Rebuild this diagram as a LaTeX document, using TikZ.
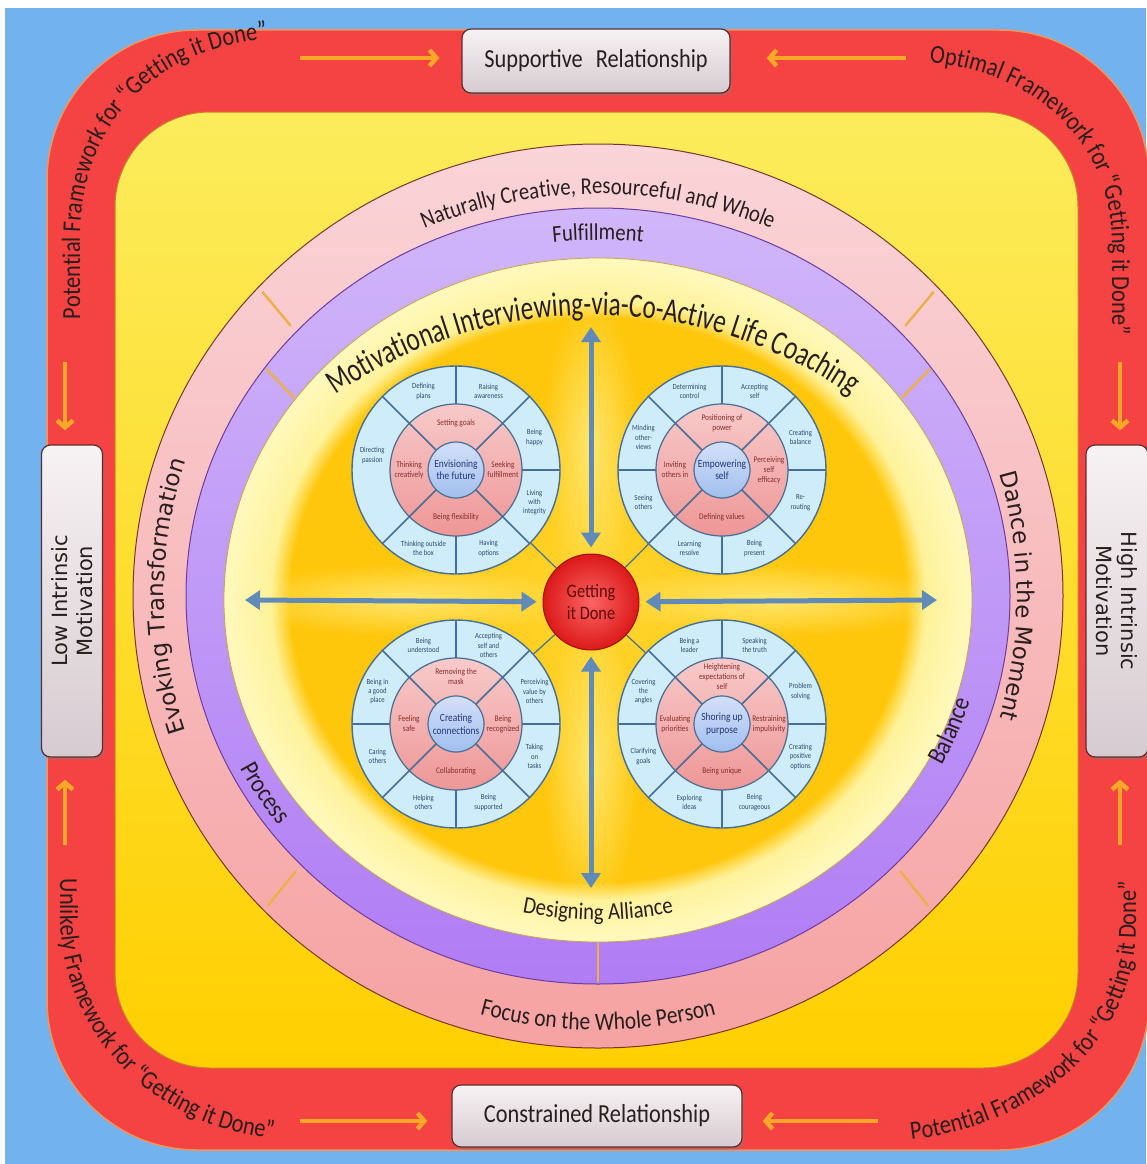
\documentclass[tikz,border=0pt]{standalone}
\usepackage{fontspec}
\setmainfont{Carlito}[FakeStretch=0.86]
\newfontfamily\carlN{Carlito}[FakeStretch=0.74]
\newfontfamily\dvs{DejaVu Sans}
\usetikzlibrary{calc,arrows.meta,decorations.text,shadows,fadings}

\definecolor{bgblue}{RGB}{114,178,238}
\definecolor{redb}{RGB}{245,66,66}
\definecolor{redline}{RGB}{240,150,90}
\definecolor{yelT}{RGB}{252,236,92}
\definecolor{yelB}{RGB}{255,207,0}
\definecolor{yelline}{RGB}{200,130,40}
\definecolor{pinkT}{RGB}{250,212,216}
\definecolor{pinkB}{RGB}{246,162,162}
\definecolor{pinkline}{RGB}{120,55,45}
\definecolor{purT}{RGB}{208,182,250}
\definecolor{purB}{RGB}{176,124,244}
\definecolor{purline}{RGB}{110,60,160}
\definecolor{paleY}{RGB}{255,249,190}
\definecolor{paleY2}{RGB}{255,242,155}
\definecolor{goldA}{RGB}{255,214,50}
\definecolor{goldB}{RGB}{255,199,12}
\definecolor{glow}{RGB}{255,243,150}
\definecolor{paleline}{RGB}{200,165,70}
\definecolor{tickc}{RGB}{236,176,70}
\definecolor{txt}{RGB}{40,30,30}
\definecolor{wblue}{RGB}{206,236,249}
\definecolor{wline}{RGB}{72,110,150}
\definecolor{wpT}{RGB}{248,202,202}
\definecolor{wpB}{RGB}{238,150,150}
\definecolor{wcT}{RGB}{212,224,250}
\definecolor{wcB}{RGB}{160,190,238}
\definecolor{otxt}{RGB}{50,72,105}
\definecolor{ptxt}{RGB}{135,45,45}
\definecolor{ctxt}{RGB}{35,55,115}
\definecolor{arrowb}{RGB}{96,138,184}
\definecolor{orangea}{RGB}{248,168,38}
\definecolor{boxT}{RGB}{247,242,244}
\definecolor{boxB}{RGB}{214,203,208}
\definecolor{boxline}{RGB}{90,45,45}
\definecolor{gidIn}{RGB}{252,100,100}
\definecolor{gidOut}{RGB}{220,25,25}
\definecolor{gidtxt}{RGB}{95,12,12}

\pgfdeclareradialshading{innerglow}{\pgfpoint{0bp}{0bp}}{color(0bp)=(goldA); color(14bp)=(goldB); color(20.6bp)=(goldB); color(21.9bp)=(paleY2); color(25bp)=(paleY); color(50bp)=(paleY)}
\tikzfading[name=softglow, inner color=transparent!0, outer color=transparent!100]

\newcommand{\myfs}[1]{\fontsize{#1}{#1}\selectfont}

\newcommand{\wheel}[4]{%
  \node[wout] (#1) at (#2,#3) {};
  \node[wpink] (#1p) at (#2,#3) {};
  \foreach \a in {45,135,225,315}{\draw[wdiv] ($(#1)+(\a:28)$) -- ($(#1)+(\a:104)$);}
  \foreach \a in {0,90,270}{\draw[wdiv] ($(#1)+(\a:66)$) -- ($(#1)+(\a:104)$);}
  \node[wcen] (#1c) at (#2,#3) {#4};
}
\newcommand{\olab}[3]{\node[olab] at ($(#1)+(#2:85)$) {#3};}
\newcommand{\plab}[3]{\node[plab] at ($(#1)+(#2:47)$) {#3};}

\begin{document}
\begin{tikzpicture}[x=1pt,y=-1pt,
  relbox/.style={draw=boxline, line width=1.2pt, rounded corners=9pt, top color=boxT, bottom color=boxB, drop shadow={opacity=0.35, shadow xshift=2pt, shadow yshift=-3pt}, text=txt, font=\fontsize{26}{28}\selectfont, inner sep=0pt},
  sidebox/.style={draw=boxline, line width=1.2pt, rounded corners=9pt, top color=boxT, bottom color=boxB, drop shadow={opacity=0.35, shadow xshift=2pt, shadow yshift=-3pt}, text=txt, font=\dvs\fontsize{21}{25}\selectfont, align=center, inner sep=0pt},
  oarr/.style={orangea, line width=4.5pt, -{Straight Barb[length=7pt,width=16pt]}},
  barr/.style={arrowb, line width=5pt, {Triangle[length=15pt,width=19pt]}-{Triangle[length=15pt,width=19pt]}, shorten >=6pt},
  conn/.style={wline, line width=1.2pt},
  tick/.style={tickc, line width=2.4pt},
  glowfill/.style={glow, path fading=softglow, opacity=0.7},
  wout/.style={circle, minimum size=208pt, inner sep=0pt, fill=wblue, draw=wline, line width=1.4pt},
  wpink/.style={circle, minimum size=132pt, inner sep=0pt, top color=wpT, bottom color=wpB, draw=wline, line width=1.2pt},
  wcen/.style={circle, minimum size=56pt, inner sep=0pt, top color=wcT, bottom color=wcB, draw=wline, line width=1.2pt, align=center, font=\fontsize{11}{12.5}\selectfont, text=ctxt},
  wdiv/.style={wline, line width=1.6pt},
  olab/.style={align=center, inner sep=0pt, font=\fontsize{7.8}{9.4}\selectfont, text=otxt},
  plab/.style={align=center, inner sep=0pt, font=\fontsize{8.6}{10}\selectfont, text=ptxt},
]
\useasboundingbox (0,0) rectangle (1146,1164);
\fill[white] (0,0) rectangle (1146,1164);
\fill[bgblue] (5,8) rectangle (1146,1164);

% red frame
\path[fill=redb, draw=redline, line width=1.5pt, rounded corners=150pt] (47,30) rectangle (1149,1150);
% yellow field
\path[top color=yelT, bottom color=yelB, draw=yelline, line width=1pt, rounded corners=95pt] (115,112) rectangle (1078,1068);

% rings
\path[top color=pinkT, bottom color=pinkB, draw=pinkline, line width=1pt] (598,596) ellipse [x radius=465, y radius=452];
\path[top color=purT, bottom color=purB, draw=purline, line width=1pt] (598,596) ellipse [x radius=412, y radius=388];
\path[shading=innerglow, draw=paleline, line width=0.8pt] (598,600) ellipse [x radius=374, y radius=342];

% light glow around the cross
\fill[glowfill] (591,445) ellipse [x radius=48, y radius=150];
\fill[glowfill] (591,765) ellipse [x radius=48, y radius=150];
\fill[glowfill] (405,600) ellipse [x radius=175, y radius=36];
\fill[glowfill] (778,600) ellipse [x radius=175, y radius=36];

% ticks
\foreach \t in {223,317,136,44}{\draw[tick] ($(598,596)+(\t:459 and 446)$) -- ($(598,596)+(\t:420 and 396)$);}
\foreach \t in {216,324,90}{\draw[tick] ($(598,596)+(\t:410 and 386)$) -- ($(598,600)+(\t:375 and 343)$);}

% ring texts
\path[decorate, decoration={text along path, text align=center, text={|\myfs{24}\color{txt}|Naturally Creative, Resourceful and Whole}}] ($(598,596)+(200:426 and 402)$) arc[start angle=200, end angle=340, x radius=426, y radius=402];
\path[decorate, decoration={text along path, text align=center, text={|\myfs{24}\color{txt}|Fulfillment}}] ($(598,596)+(240:392 and 356)$) arc[start angle=240, end angle=300, x radius=392, y radius=356];
\path[decorate, decoration={text along path, text align=center, text={|\carlN\myfs{34}\color{txt}|Motivational Interviewing-via-Co-Active Life Coaching}}] ($(593,771)+(220:456)$) arc[start angle=220, end angle=320, radius=456];
\path[decorate, decoration={text along path, text align=center, text={|\myfs{24}\color{txt}|Designing Alliance}}] ($(598,600)+(115:352 and 320)$) arc[start angle=115, end angle=65, x radius=352, y radius=320];
\path[decorate, decoration={text along path, text align=center, text={|\myfs{25}\color{txt}|Focus on the Whole Person}}] ($(598,596)+(115:446 and 434)$) arc[start angle=115, end angle=65, x radius=446, y radius=434];
\path[decorate, decoration={text along path, text align=center, text={|\dvs\myfs{23}\color{txt}|Evoking Transformation}}] ($(598,596)+(155:434 and 430)$) arc[start angle=155, end angle=205, x radius=434, y radius=430];
\path[decorate, decoration={text along path, text align=center, text={|\dvs\myfs{23}\color{txt}|Dance in the Moment}}] ($(598,596)+(-25:419 and 430)$) arc[start angle=-25, end angle=25, x radius=419, y radius=430];
\path[decorate, decoration={text along path, text align=center, text={|\myfs{26}\color{txt}|Process}}] ($(598,596)+(170:402 and 378)$) arc[start angle=170, end angle=126, x radius=402, y radius=378];
\path[decorate, decoration={text along path, text align=center, text={|\myfs{26}\color{txt}|Balance}}] ($(598,596)+(44:388 and 366)$) arc[start angle=44, end angle=0, x radius=388, y radius=366];

% corner texts
\path[decorate, decoration={text along path, text align=center, text={|\myfs{26}\color{txt}|Potential Framework for “Getting it Done”}}] (80,350) -- (80,240) .. controls (80,110) and (172,36) .. (298,38);
\path[decorate, decoration={text along path, text align=center, text={|\myfs{26}\color{txt}|Optimal Framework for “Getting it Done”}}] (912,62) .. controls (1025,64) and (1112,135) .. (1112,245) -- (1112,352);
\path[decorate, decoration={text along path, text align=center, text={|\myfs{26}\color{txt}|Unlikely Framework for “Getting it Done”}}] (60,858) -- (60,915) .. controls (60,1040) and (165,1137) .. (294,1140);
\path[decorate, decoration={text along path, text align=center, text={|\myfs{26}\color{txt}|Potential Framework for “Getting it Done”}}] (886,1142) .. controls (1030,1135) and (1136,1045) .. (1136,925) -- (1136,856);

% boxes
\node[relbox, minimum width=268pt, minimum height=64pt] (sup) at (596,61) {Supportive\hspace{0.5em}Relationship};
\node[relbox, minimum width=290pt, minimum height=62pt] (con) at (597,1116) {Constrained Relationship};
\node[sidebox, rotate=90, minimum width=312pt, minimum height=61pt] (low) at (72,601) {Low Intrinsic\\Motivation};
\node[sidebox, rotate=-90, minimum width=312pt, minimum height=62pt] (high) at (1117,601) {High Intrinsic\\Motivation};

% orange arrows
\coordinate (o1) at (300,58);
\coordinate (o2) at (906,58);
\coordinate (o3) at (300,1121);
\coordinate (o4) at (878,1121);
\coordinate (o5) at (65,362);
\coordinate (o6) at (65,845);
\coordinate (o7) at (1120,362);
\coordinate (o8) at (1120,845);
\draw[oarr, shorten >=22pt] (o1) -- (o1 -| sup.west);
\draw[oarr, shorten >=36pt] (o2) -- (o2 -| sup.east);
\draw[oarr, shorten >=24pt] (o3) -- (o3 -| con.west);
\draw[oarr, shorten >=20pt] (o4) -- (o4 -| con.east);
\draw[oarr, shorten >=14pt] (o5) -- (o5 |- low.east);
\draw[oarr, shorten >=22pt] (o6) -- (o6 |- low.west);
\draw[oarr, shorten >=14pt] (o7) -- (o7 |- high.west);
\draw[oarr, shorten >=22pt] (o8) -- (o8 |- high.east);

% wheels
\wheel{TL}{456}{470}{Envisioning\\the future}
\plab{TL}{270}{Setting goals}
\plab{TL}{0}{Seeking\\fulfillment}
\plab{TL}{90}{Being flexibility}
\plab{TL}{180}{Thinking\\creatively}
\olab{TL}{247.5}{Defining\\plans}
\olab{TL}{292.5}{Raising\\awareness}
\olab{TL}{337.5}{Being\\happy}
\olab{TL}{22.5}{Living\\with\\integrity}
\olab{TL}{67.5}{Having\\options}
\olab{TL}{112.5}{Thinking outside\\the box}
\olab{TL}{190}{Directing\\passion}

\wheel{TR}{722}{470}{Empowering\\self}
\draw[wdiv] ($(TR)+(180:66)$) -- ($(TR)+(180:104)$);
\plab{TR}{270}{Positioning of\\power}
\plab{TR}{0}{Perceiving\\self\\efficacy}
\plab{TR}{90}{Defining values}
\plab{TR}{180}{Inviting\\others in}
\olab{TR}{247.5}{Determining\\control}
\olab{TR}{292.5}{Accepting\\self}
\olab{TR}{337.5}{Creating\\balance}
\olab{TR}{22.5}{Re-\\routing}
\olab{TR}{67.5}{Being\\present}
\olab{TR}{112.5}{Learning\\resolve}
\olab{TR}{157.5}{Seeing\\others}
\olab{TR}{202.5}{Minding\\other-\\views}

\wheel{BL}{456}{724}{Creating\\connections}
\draw[wdiv] ($(BL)+(180:66)$) -- ($(BL)+(180:104)$);
\plab{BL}{270}{Removing the\\mask}
\plab{BL}{0}{Being\\recognized}
\plab{BL}{90}{Collaborating}
\plab{BL}{180}{Feeling\\safe}
\olab{BL}{247.5}{Being\\understood}
\olab{BL}{292.5}{Accepting\\self and\\others}
\olab{BL}{337.5}{Perceiving\\value by\\others}
\olab{BL}{22.5}{Taking\\on\\tasks}
\olab{BL}{67.5}{Being\\supported}
\olab{BL}{112.5}{Helping\\others}
\olab{BL}{157.5}{Caring\\others}
\olab{BL}{202.5}{Being in\\a good\\place}

\wheel{BR}{722}{724}{Shoring up\\purpose}
\draw[wdiv] ($(BR)+(180:66)$) -- ($(BR)+(180:104)$);
\plab{BR}{270}{Heightening\\expectations of\\self}
\plab{BR}{0}{Restraining\\impulsivity}
\plab{BR}{90}{Being unique}
\plab{BR}{180}{Evaluating\\priorities}
\olab{BR}{247.5}{Being a\\leader}
\olab{BR}{292.5}{Speaking\\the truth}
\olab{BR}{337.5}{Problem\\solving}
\olab{BR}{22.5}{Creating\\positive\\options}
\olab{BR}{67.5}{Being\\courageous}
\olab{BR}{112.5}{Exploring\\ideas}
\olab{BR}{157.5}{Clarifying\\goals}
\olab{BR}{202.5}{Covering\\the\\angles}

% centre
\node[circle, minimum size=96pt, inner sep=0pt, draw=gidOut!70!black, line width=1pt, inner color=gidIn, outer color=gidOut, align=center, font=\fontsize{19}{22}\selectfont, text=gidtxt] (gid) at (591,602) {Getting\\it Done};
\draw[conn] (gid) -- (TL);
\draw[conn] (gid) -- (TR);
\draw[conn] (gid) -- (BL);
\draw[conn] (gid) -- (BR);

\coordinate (vt) at (591,327);
\coordinate (vb) at (591,888);
\coordinate (hl) at (245,600);
\coordinate (hr) at (937,600);
\draw[barr] (vt) -- (gid);
\draw[barr] (vb) -- (gid);
\draw[barr] (hl) -- (gid);
\draw[barr] (hr) -- (gid);
\end{tikzpicture}
\end{document}
